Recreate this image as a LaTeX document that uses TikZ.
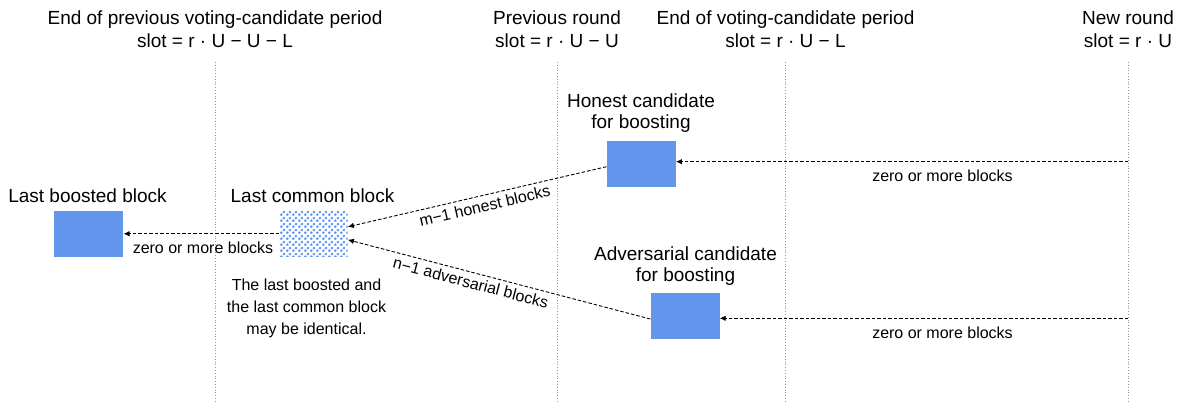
\documentclass[tikz,border=0pt]{standalone}
\usepackage{fontspec}
\setmainfont{Liberation Sans}
\usetikzlibrary{arrows.meta,patterns.meta,calc}
\definecolor{cblue}{RGB}{100,149,237}
\definecolor{dotgray}{RGB}{150,150,150}
\tikzdeclarepattern{
  name=bluedots, type=uncolored,
  bounding box={(0,0) and (5.6pt,5.6pt)},
  tile size={(5.6pt,5.6pt)},
  code={\fill (1.4pt,1.4pt) circle (1.55pt); \fill (4.2pt,4.2pt) circle (1.55pt);}
}
\tikzset{
  hdr/.style={anchor=north, inner sep=0pt, align=center, font=\fontsize{19}{23}\selectfont},
  blab/.style={inner sep=0pt, align=center, font=\fontsize{19}{21}\selectfont},
  small/.style={inner sep=0pt, align=center, font=\fontsize{16}{21.7}\selectfont},
  block/.style={minimum width=69pt, minimum height=45.7pt, inner sep=0pt, fill=cblue},
  commonblock/.style={minimum width=68.4pt, minimum height=45.7pt, inner sep=0pt, pattern={bluedots}, pattern color=cblue},
  timeline/.style={dotgray, line width=0.8pt, dash pattern=on 0.8pt off 2pt},
  conn/.style={line width=0.9pt, dash pattern=on 3.5pt off 2pt, -{Latex[length=6pt,width=5.5pt]}},
  alab/.style={inner sep=4pt, font=\fontsize{16}{18}\selectfont, sloped}
}
\begin{document}
\begin{tikzpicture}[x=1pt,y=-1pt]
\useasboundingbox (0,0) rectangle (1182,403);
% timelines
\coordinate (t1) at (215,62);  \coordinate (b1) at (215,403);
\coordinate (t2) at (557,62);  \coordinate (b2) at (557,403);
\coordinate (t3) at (785.5,62);\coordinate (b3) at (785.5,403);
\coordinate (t4) at (1128,62); \coordinate (b4) at (1128,403);
\draw[timeline] (t1) -- (b1);
\draw[timeline] (t2) -- (b2);
\draw[timeline] (t3) -- (b3);
\draw[timeline] (t4) -- (b4);
% headers
\node[hdr] (h1) at (215,11) {End of previous voting-candidate period\\slot = r · U − U − L};
\node[hdr] (h2) at (557,11) {Previous round\\slot = r · U − U};
\node[hdr] (h3) at (785.5,11) {End of voting-candidate period\\slot = r · U − L};
\node[hdr] (h4) at (1128,11) {New round\\slot = r · U};
% blocks
\node[block] (boosted) at (88.8,233.8) {};
\node[commonblock] (common) at (313.5,233.8) {};
\node[block] (honest) at (641.2,163.9) {};
\node[block] (adv) at (685,316.2) {};
% block labels
\node[blab, anchor=base] (lboosted) at (87.5,202.7) {Last boosted block};
\node[blab, anchor=base] (lcommon) at (312.5,202.7) {Last common block};
\node[blab, anchor=north] (lhonest) at (641,93.8) {Honest candidate\\for boosting};
\node[blab, anchor=north] (ladv) at (685.5,246.1) {Adversarial candidate\\for boosting};
\node[small, anchor=north] (note) at (306.5,279) {The last boosted and\\the last common block\\may be identical.};
% right-side sources
\coordinate (nr1) at (1128,161.7);
\coordinate (nr2) at (1128,318.3);
% connectors
\draw[conn] (common.west) -- (boosted.east |- common.west);
\node[small, anchor=base] (z1) at (203,254) {zero or more blocks};
\draw[conn] ($(honest.west)+(0,2.8)$) -- node[alab, below, pos=0.48] {m−1 honest blocks} ($(common.east)+(0,-7)$);
\draw[conn] ($(adv.west)+(0,2.8)$) -- node[alab, below, pos=0.585] {n−1 adversarial blocks} ($(common.east)+(0,6)$);
\draw[conn] (nr1) -- (nr1 -| honest.east);
\node[small, anchor=base] (z2) at (942.5,181.7) {zero or more blocks};
\draw[conn] (nr2) -- (nr2 -| adv.east);
\node[small, anchor=base] (z3) at (942.5,338.3) {zero or more blocks};
\end{tikzpicture}
\end{document}
